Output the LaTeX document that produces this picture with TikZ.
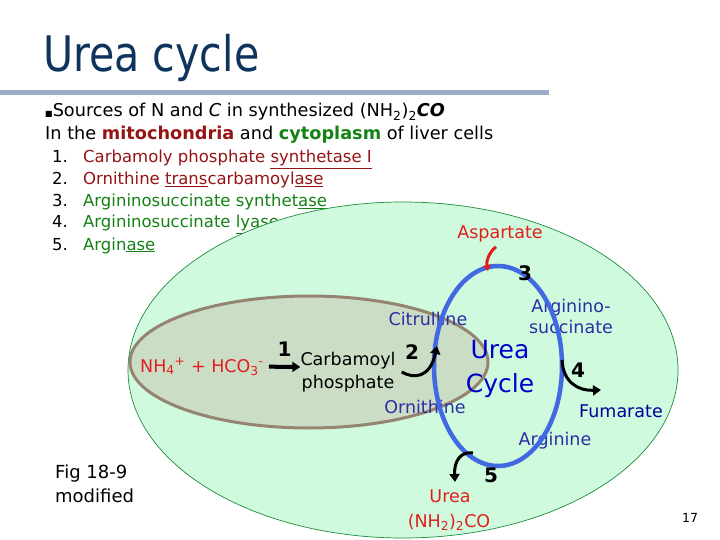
\documentclass[tikz,border=0pt]{standalone}
\usepackage{fontspec}
\setmainfont{DejaVu Sans}
\newfontfamily\titlefont[FakeStretch=0.84]{DejaVu Sans}
\usetikzlibrary{arrows.meta,positioning}
\definecolor{ucNavy}{RGB}{14,52,94}
\definecolor{ucrule}{RGB}{153,172,200}
\definecolor{ucdarkred}{RGB}{150,20,20}
\definecolor{ucgreen}{RGB}{20,130,20}
\definecolor{ucmint}{RGB}{207,250,222}
\definecolor{ucrim}{RGB}{30,140,60}
\definecolor{ucsage}{RGB}{204,221,198}
\definecolor{ucbrown}{RGB}{148,132,112}
\definecolor{ucring}{RGB}{65,105,225}
\definecolor{ucink}{RGB}{45,45,165}
\definecolor{ucbright}{RGB}{0,0,205}
\definecolor{ucdeep}{RGB}{0,0,150}
\definecolor{ucred}{RGB}{225,30,30}

\begin{document}
\begin{tikzpicture}[x=1pt,y=-1pt,
    txt/.style={inner sep=0pt, anchor=base west, font=\fontsize{17.7}{21}\selectfont},
    item/.style={inner sep=0pt, anchor=base west, font=\fontsize{16.5}{20}\selectfont},
    lbl/.style={inner sep=0pt, anchor=base, font=\fontsize{17.5}{20}\selectfont},
    enz/.style={inner sep=0pt, font=\bfseries\fontsize{20}{22}\selectfont},
    react/.style={line width=3pt, -{Triangle[length=8pt,width=10pt]}}]

\fill[white] (0,0) rectangle (720,540);
\useasboundingbox (0,0) rectangle (720,540);

% =========================
% Heading
% =========================
\node[inner sep=0pt, anchor=base west, text=ucNavy,
      font=\titlefont\fontsize{49}{55}\selectfont] (title) at (43,72) {Urea cycle};
\fill[ucrule] (0,90) rectangle (549,95);

\node[txt] (src) at (45,117)
    {{\fontsize{8}{8}\selectfont ■}Sources of N and \textit{C} in synthesized (NH\textsubscript{2})\textsubscript{2}\textbf{\textit{CO}}};
\node[txt] (loc) at (45,140)
    {In the \textbf{\textcolor{ucdarkred}{mitochondria}} and \textbf{\textcolor{ucgreen}{cytoplasm}} of liver cells};

% enzymes
\node[item] (n1) at (52,163) {1.};
\node[item] (n2) at (52,185) {2.};
\node[item] (n3) at (52,207) {3.};
\node[item] (n4) at (52,228) {4.};
\node[item] (n5) at (52,250) {5.};
\node[item, text=ucdarkred] (e1) at (83,163) {Carbamoly phosphate \underline{synthetase I}};
\node[item, text=ucdarkred] (e2) at (83,185) {Ornithine \underline{trans}carbamoyl\underline{ase}};
\node[item, text=ucgreen] (e3) at (83,207) {Argininosuccinate synthet\underline{ase}};
\node[item, text=ucgreen] (e4) at (83,228) {Argininosuccinate \underline{lyase}};
\node[item, text=ucgreen] (e5) at (83,250) {Argin\underline{ase}};

% =========================
% Cell compartments
% =========================
\filldraw[fill=ucmint, draw=ucrim, line width=0.7pt] (403,370) ellipse [x radius=275pt, y radius=168pt];
\filldraw[fill=ucsage, draw=ucbrown, line width=3pt] (309,362) ellipse [x radius=179pt, y radius=66pt];

% =========================
% Reactions
% =========================
\node[lbl, anchor=base west, text=ucred] (nh) at (140,372)
    {NH\textsubscript{4}\textsuperscript{+} + HCO\textsubscript{3}\textsuperscript{-}};
\node[lbl, anchor=center, align=center, font=\fontsize{17.5}{23}\selectfont] (carb) at (348,372) {Carbamoyl\\phosphate};

\node[lbl, text=ucink] (cit) at (428,325) {Citrulline};
\node[lbl, text=ucink] (orn) at (425,413) {Ornithine};
\node[lbl, text=ucink] (as1) at (571,312) {Arginino-};
\node[lbl, text=ucink] (as2) at (571,333) {succinate};
\node[lbl, text=ucink] (arg) at (555,445) {Arginine};
\node[lbl, text=ucdeep] (fum) at (621,417) {Fumarate};
\node[lbl, text=ucred] (asp) at (500,238) {Aspartate};
\node[lbl, text=ucred] (urea) at (450,502) {Urea};
\node[lbl, text=ucred] (ureaf) at (449,527) {(NH\textsubscript{2})\textsubscript{2}CO};
\node[lbl, text=ucbright, font=\fontsize{25}{28}\selectfont] (cyc1) at (500,358) {Urea};
\node[lbl, text=ucbright, font=\fontsize{25}{28}\selectfont] (cyc2) at (500,392) {Cycle};

% the cycle itself
\draw[ucring, line width=4.5pt] (498,366) ellipse [x radius=64pt, y radius=100pt];

\coordinate (cyc-left) at (437,346);
\coordinate (cyc-top) at (488,271);
\coordinate (cyc-right) at (562,360);
\coordinate (fum-in) at (601,390);
\coordinate (cyc-bot) at (473,453);
\coordinate (urea-in) at (455,482);

\draw[react, line width=4pt] ([xshift=5pt]nh.east) -- (carb.west |- 0,367)
    node[enz, midway, above=8pt] (k1) {1};
\node[enz] (k2) at (412,352) {2};
\draw[react] ([xshift=6pt]carb.east) .. controls (414,379) and (430,378) .. (cyc-left);
\draw[ucred, line width=3pt, -{Triangle[length=6pt,width=8pt]}]
    ([xshift=-4pt,yshift=-5pt]asp.south) .. controls (489,252) and (486,262) .. (cyc-top);
\node[enz] (k3) at (525,273) {3};
\draw[react] (cyc-right) .. controls (563,382) and (578,391) .. (fum-in);
\node[enz] (k4) at (578,370) {4};
\draw[react] (cyc-bot) .. controls (460,451) and (454,462) .. (urea-in);
\node[enz] (k5) at (491,475) {5};

% =========================
% Notes
% =========================
\node[lbl, anchor=base west, font=\fontsize{18}{20}\selectfont] (fig) at (55,478) {Fig 18-9};
\node[lbl, anchor=base west, font=\fontsize{18}{20}\selectfont] (figmod) at (55,502) {modified};
\node[inner sep=0pt, font=\fontsize{12.5}{14}\selectfont] (page) at (690,518) {17};

\end{tikzpicture}
\end{document}
